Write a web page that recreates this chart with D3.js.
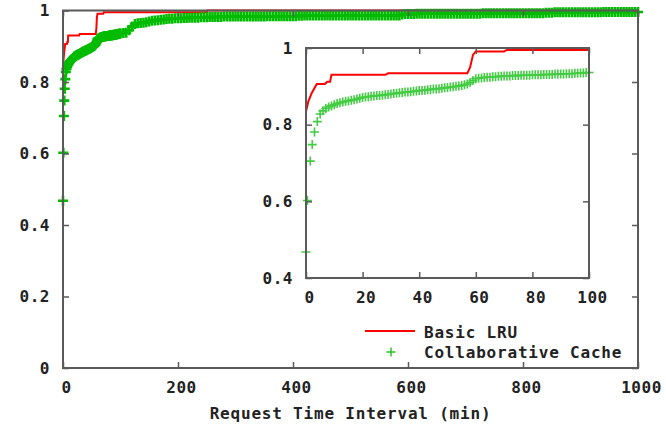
<!DOCTYPE html>
<html>
<head>
<meta charset="utf-8">
<script src="https://cdn.jsdelivr.net/npm/d3@7"></script>
<style>
  body { margin: 0; background: #fff; }
  text { font-family: "DejaVu Sans Mono", monospace; font-weight: bold; fill: #222; }
</style>
</head>
<body>
<script>
// chart values

// Basic LRU, cumulative fraction vs request interval (min)
var lruTime  = [0, 0.8, 2, 3.8, 6.7, 7.5, 8.5, 9, 28, 29, 57, 58, 59, 60, 70, 71, 250, 251, 1000];
var lruValue = [0.834, 0.86, 0.882, 0.906, 0.906, 0.912, 0.912, 0.93, 0.93, 0.934, 0.934, 0.95, 0.982, 0.991, 0.991, 0.995, 0.995, 1.0, 1.0];

// Collaborative Cache, first few points (sub minute)
var collabEarlyTime  = [0, 0.5, 1.5, 2.2, 3, 4];
var collabEarlyValue = [0.468, 0.602, 0.705, 0.748, 0.781, 0.808];

// Collaborative Cache, one point per minute from 5 to 100 min
var collabMinTime = [5,6,7,8,9,10,11,12,13,14,15,16,17,18,19,20,21,22,23,24,25,26,27,28,29,30,31,32,33,34,35,36,37,38,39,40,
  41,42,43,44,45,46,47,48,49,50,51,52,53,54,55,56,57,58,59,60,61,62,63,64,65,66,67,68,69,70,71,72,73,74,75,76,77,78,79,80,
  81,82,83,84,85,86,87,88,89,90,91,92,93,94,95,96,97,98,99,100];
var collabMinValue = [
  0.828,0.836,0.842,0.846,0.849,0.852,0.855,0.857,0.859,0.861,0.862,0.864,0.865,0.867,0.869,0.871,
  0.872,0.873,0.874,0.875,0.876,0.876,0.877,0.878,0.879,0.880,0.881,0.882,0.883,0.884,0.885,0.885,
  0.886,0.887,0.888,0.889,0.889,0.890,0.891,0.892,0.893,0.893,0.894,0.895,0.896,0.897,0.898,0.899,
  0.900,0.901,0.902,0.904,0.906,0.910,0.915,0.920,0.921,0.922,0.923,0.924,0.924,0.925,0.925,0.926,
  0.926,0.927,0.927,0.927,0.928,0.928,0.928,0.929,0.929,0.929,0.929,0.930,0.930,0.930,0.930,0.931,
  0.931,0.931,0.931,0.932,0.932,0.932,0.932,0.933,0.933,0.933,0.934,0.934,0.935,0.935,0.936,0.936];

// Collaborative Cache, every 5 min from 105 to 1000 min
var collabLongTime = [
  105,110,115,120,125,130,135,140,145,150,155,160,165,170,175,180,185,190,195,200,
  205,210,215,220,225,230,235,240,245,250,255,260,265,270,275,280,285,290,295,300,
  305,310,315,320,325,330,335,340,345,350,355,360,365,370,375,380,385,390,395,400,
  405,410,415,420,425,430,435,440,445,450,455,460,465,470,475,480,485,490,495,500,
  505,510,515,520,525,530,535,540,545,550,555,560,565,570,575,580,585,590,595,600,
  605,610,615,620,625,630,635,640,645,650,655,660,665,670,675,680,685,690,695,700,
  705,710,715,720,725,730,735,740,745,750,755,760,765,770,775,780,785,790,795,800,
  805,810,815,820,825,830,835,840,845,850,855,860,865,870,875,880,885,890,895,900,
  905,910,915,920,925,930,935,940,945,950,955,960,965,970,975,980,985,990,995,1000];
var collabLongValue = [
  0.937,0.938,0.945,0.955,0.962,0.964,0.965,0.966,0.967,0.969,0.971,0.972,0.973,0.974,0.975,0.976,0.977,0.977,0.978,0.978,
  0.978,0.979,0.979,0.980,0.980,0.980,0.980,0.981,0.981,0.981,0.982,0.982,0.982,0.982,0.982,0.983,0.983,0.983,0.983,0.983,
  0.983,0.983,0.983,0.983,0.983,0.983,0.983,0.983,0.983,0.983,0.984,0.984,0.984,0.984,0.984,0.984,0.984,0.984,0.984,0.984,
  0.984,0.985,0.985,0.986,0.986,0.986,0.986,0.986,0.986,0.986,0.986,0.986,0.986,0.986,0.986,0.986,0.986,0.986,0.986,0.986,
  0.986,0.986,0.986,0.986,0.986,0.986,0.986,0.986,0.986,0.986,0.986,0.986,0.986,0.986,0.986,0.986,0.986,0.989,0.990,0.990,
  0.990,0.990,0.991,0.991,0.991,0.991,0.991,0.991,0.991,0.991,0.991,0.991,0.991,0.991,0.991,0.991,0.991,0.991,0.991,0.991,
  0.991,0.991,0.991,0.991,0.991,0.992,0.992,0.992,0.992,0.992,0.992,0.992,0.992,0.992,0.992,0.992,0.992,0.992,0.992,0.992,
  0.992,0.992,0.992,0.992,0.992,0.992,0.992,0.994,0.994,0.994,0.995,0.995,0.995,0.995,0.995,0.995,0.995,0.995,0.995,0.995,
  0.995,0.995,0.995,0.995,0.995,0.995,0.995,0.996,0.996,0.996,0.996,0.996,0.996,0.996,0.996,0.996,0.996,0.996,0.996,0.996];

var mainXTicks = [0, 200, 400, 600, 800, 1000];
var mainYTicks = [0, 0.2, 0.4, 0.6, 0.8, 1];
var insetXTicks = [0, 20, 40, 60, 80, 100];
var insetYTicks = [0.4, 0.6, 0.8, 1];
var seriesNames = ["Basic LRU", "Collaborative Cache"];
var xTitle = "Request Time Interval (min)";

var width = 666;
var height = 426;

var red = "#ff0000";
var green = "#00bb00";
var insetGreen = "#22c422";
var frameColor = "#5a5a5a";

var svg = d3.select("body").append("svg")
  .attr("width", width)
  .attr("height", height);

// build point lists
function zip(ts, vs) {
  return ts.map(function(t, i) { return { t: t, v: vs[i] }; });
}
var lruData = zip(lruTime, lruValue);
var collabData = zip(collabEarlyTime, collabEarlyValue)
  .concat(zip(collabMinTime, collabMinValue))
  .concat(zip(collabLongTime, collabLongValue));
var collabInset = collabData.filter(function(d) { return d.t <= 100; });

// draws one framed panel with gnuplot style inward ticks on all four sides
function drawFrame(g, x, y, xticks, yticks, fmtY) {
  var r = x.range(), b = y.range();
  g.append("g")
    .attr("transform", "translate(0," + b[0] + ")")
    .call(d3.axisBottom(x).tickValues(xticks).tickSizeInner(-6).tickSizeOuter(0).tickPadding(14)
      .tickFormat(d3.format("d")))
    .call(function(a) {
      a.select(".domain").remove();
      a.selectAll("line").attr("stroke", frameColor).attr("stroke-width", 1.5);
      a.selectAll("text").attr("font-size", 16).attr("dx", 3).style("letter-spacing", "0.5px");
    });
  g.append("g")
    .attr("transform", "translate(0," + b[1] + ")")
    .call(d3.axisTop(x).tickValues(xticks).tickSizeInner(-6).tickSizeOuter(0).tickFormat(""))
    .call(function(a) {
      a.select(".domain").remove();
      a.selectAll("line").attr("stroke", frameColor).attr("stroke-width", 1.5);
    });
  g.append("g")
    .attr("transform", "translate(" + r[0] + ",0)")
    .call(d3.axisLeft(y).tickValues(yticks).tickSizeInner(-6).tickSizeOuter(0).tickPadding(13)
      .tickFormat(fmtY))
    .call(function(a) {
      a.select(".domain").remove();
      a.selectAll("line").attr("stroke", frameColor).attr("stroke-width", 1.5);
      a.selectAll("text").attr("font-size", 16).style("letter-spacing", "0.5px");
    });
  g.append("g")
    .attr("transform", "translate(" + r[1] + ",0)")
    .call(d3.axisRight(y).tickValues(yticks).tickSizeInner(-6).tickSizeOuter(0).tickFormat(""))
    .call(function(a) {
      a.select(".domain").remove();
      a.selectAll("line").attr("stroke", frameColor).attr("stroke-width", 1.5);
    });
  g.append("rect")
    .attr("x", r[0]).attr("y", b[1])
    .attr("width", r[1] - r[0]).attr("height", b[0] - b[1])
    .attr("fill", "none")
    .attr("stroke", frameColor)
    .attr("stroke-width", 2);
}

function fmtY(d) { return d === 0 || d === 1 ? String(d) : d3.format(".1f")(d); }

function plus(sel, size) {
  sel.append("path")
    .attr("d", "M" + (-size / 2) + ",0H" + (size / 2) + "M0," + (-size / 2) + "V" + (size / 2));
}

// ---- main plot
var x = d3.scaleLinear().domain([0, 1000]).range([63, 638]);
var y = d3.scaleLinear().domain([0, 1]).range([368, 10.5]);

var main = svg.append("g");

main.append("path")
  .datum(lruData)
  .attr("fill", "none")
  .attr("stroke", red)
  .attr("stroke-width", 2)
  .attr("d", d3.line().x(function(d) { return x(d.t); }).y(function(d) { return y(d.v); }));

main.append("g")
  .attr("stroke", green)
  .attr("stroke-width", 2.6)
  .selectAll("g")
  .data(collabData)
  .enter().append("g")
    .attr("transform", function(d) { return "translate(" + x(d.t) + "," + y(d.v) + ")"; })
    .call(plus, 10);

drawFrame(main, x, y, mainXTicks, mainYTicks, fmtY);

main.append("text")
  .attr("x", (x.range()[0] + x.range()[1]) / 2)
  .attr("y", 419)
  .attr("text-anchor", "middle")
  .attr("font-size", 16)
  .style("letter-spacing", "0.8px")
  .text(xTitle);

// ---- inset
var xi = d3.scaleLinear().domain([0, 100]).range([306, 589]);
var yi = d3.scaleLinear().domain([0.4, 1]).range([278, 48]);

var inset = svg.append("g");

inset.append("rect")
  .attr("x", 306).attr("y", 48)
  .attr("width", 283).attr("height", 230)
  .attr("fill", "#fff");

svg.append("clipPath").attr("id", "insetClip")
  .append("rect")
  .attr("x", xi.range()[0]).attr("y", yi.range()[1] - 2)
  .attr("width", xi.range()[1] - xi.range()[0])
  .attr("height", yi.range()[0] - yi.range()[1] + 2);

inset.append("path")
  .datum(lruData)
  .attr("clip-path", "url(#insetClip)")
  .attr("fill", "none")
  .attr("stroke", red)
  .attr("stroke-width", 2)
  .attr("d", d3.line().x(function(d) { return xi(d.t); }).y(function(d) { return yi(d.v); }));

inset.append("g")
  .attr("stroke", insetGreen)
  .attr("stroke-width", 1.6)
  .attr("opacity", 0.85)
  .selectAll("g")
  .data(collabInset)
  .enter().append("g")
    .attr("transform", function(d) { return "translate(" + xi(d.t) + "," + yi(d.v) + ")"; })
    .call(plus, 9);

drawFrame(inset, xi, yi, insetXTicks, insetYTicks, fmtY);

// ---- legend
var legend = svg.append("g");
legend.append("line")
  .attr("x1", 365).attr("x2", 415)
  .attr("y1", 331).attr("y2", 331)
  .attr("stroke", red).attr("stroke-width", 2);
legend.append("g")
  .attr("transform", "translate(391,352)")
  .attr("stroke", insetGreen).attr("stroke-width", 1.5)
  .call(plus, 9);
legend.selectAll("text")
  .data(seriesNames)
  .enter().append("text")
    .attr("x", 424)
    .attr("y", function(d, i) { return 332 + i * 20; })
    .attr("dy", "0.35em")
    .attr("font-size", 16)
    .style("letter-spacing", "0.8px")
    .text(function(d) { return d; });
</script>
</body>
</html>
